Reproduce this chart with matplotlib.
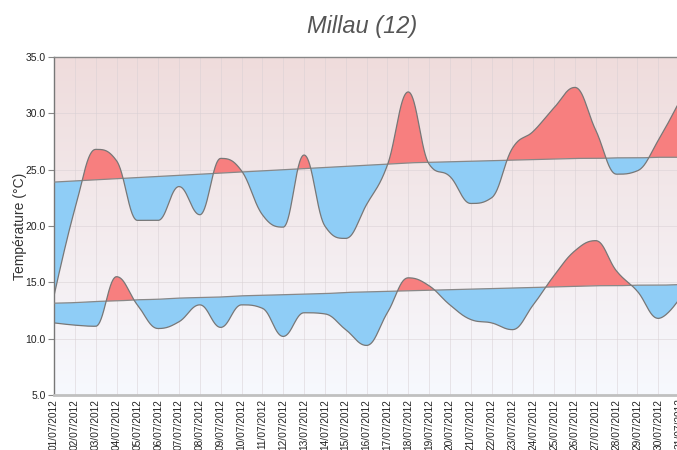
import numpy as np
import matplotlib
matplotlib.use("Agg")
import matplotlib.pyplot as plt
from matplotlib.colors import LinearSegmentedColormap

plt.rcParams['font.family'] = ['Liberation Sans', 'DejaVu Sans']

# Data
days = list(range(1, 32))
date_labels = ["%02d/07/2012" % d for d in days]

temp_max = [13.8, 21.5, 26.8, 25.8, 20.5, 20.5, 23.5, 21.0, 26.0, 24.9, 21.0,
            19.9, 26.3, 20.0, 18.9, 21.9, 25.4, 31.9, 25.5, 24.4, 22.0, 22.5,
            26.9, 28.4, 30.5, 32.3, 28.5, 24.6, 24.9, 27.6, 31.0]
temp_min = [11.4, 11.2, 11.1, 15.5, 13.0, 10.9, 11.5, 13.0, 11.0, 13.0, 12.7,
            10.2, 12.3, 12.2, 10.8, 9.4, 12.3, 15.4, 14.7, 13.0, 11.7, 11.4,
            10.8, 13.0, 15.6, 17.8, 18.7, 16.0, 14.2, 11.8, 13.5]
normal_max = [23.9, 24.0, 24.1, 24.2, 24.3, 24.4, 24.5, 24.6, 24.7, 24.8, 24.9,
              25.0, 25.1, 25.2, 25.3, 25.4, 25.5, 25.6, 25.65, 25.7, 25.75, 25.8,
              25.85, 25.9, 25.95, 26.0, 26.0, 26.05, 26.05, 26.1, 26.1]
normal_min = [13.15, 13.2, 13.3, 13.35, 13.45, 13.5, 13.6, 13.65, 13.7, 13.8, 13.85,
              13.9, 13.95, 14.0, 14.1, 14.15, 14.2, 14.25, 14.3, 14.35, 14.4, 14.45,
              14.5, 14.55, 14.6, 14.65, 14.7, 14.7, 14.75, 14.75, 14.8]


def spline(xs, ys, n=40):
    # highcharts-like spline through the points (cubic bezier segments)
    xs = np.asarray(xs, float)
    ys = np.asarray(ys, float)
    k = len(xs)
    lc = np.column_stack([xs, ys]).copy()
    rc = np.column_stack([xs, ys]).copy()
    sm, den = 1.5, 2.5
    for i in range(1, k - 1):
        px, py = xs[i], ys[i]
        lx, ly = xs[i - 1], ys[i - 1]
        nx, ny = xs[i + 1], ys[i + 1]
        lcx = (sm * px + lx) / den
        lcy = (sm * py + ly) / den
        rcx = (sm * px + nx) / den
        rcy = (sm * py + ny) / den
        corr = (rcy - lcy) * (rcx - px) / (rcx - lcx) + py - rcy
        lcy += corr
        rcy += corr
        if lcy > ly and lcy > py:
            lcy = max(ly, py)
            rcy = 2 * py - lcy
        elif lcy < ly and lcy < py:
            lcy = min(ly, py)
            rcy = 2 * py - lcy
        if rcy > ny and rcy > py:
            rcy = max(ny, py)
            lcy = 2 * py - rcy
        elif rcy < ny and rcy < py:
            rcy = min(ny, py)
            lcy = 2 * py - rcy
        lc[i] = (lcx, lcy)
        rc[i] = (rcx, rcy)
    t = np.linspace(0, 1, n)[:, None]
    out = []
    for i in range(k - 1):
        p0 = np.array([xs[i], ys[i]])
        p1 = rc[i]
        p2 = lc[i + 1]
        p3 = np.array([xs[i + 1], ys[i + 1]])
        seg = ((1 - t) ** 3) * p0 + 3 * ((1 - t) ** 2) * t * p1 + 3 * (1 - t) * t ** 2 * p2 + t ** 3 * p3
        out.append(seg if i == 0 else seg[1:])
    out = np.vstack(out)
    return out[:, 0], out[:, 1]


fig = plt.figure(figsize=(6.77, 4.5), dpi=100)
ax = fig.add_axes([54 / 677, 55 / 450, 623 / 677, 338 / 450])

xmin, xmax = 1, 30.9
ymin, ymax = 5, 35

# background gradient
cmap = LinearSegmentedColormap.from_list("bg", ["#f7f9fe", "#efdcdc"])
grad = np.linspace(0, 1, 256)[:, None]
ax.imshow(grad, extent=[xmin, xmax, ymin, ymax], origin="lower", aspect="auto",
          cmap=cmap, zorder=0)

grid = np.linspace(1, 31, 3001)
red = "#f77f7f"
blue = "#8fcdf6"
for actual, normal in [(temp_max, normal_max), (temp_min, normal_min)]:
    ax_, ay_ = spline(days, actual)
    nx_, ny_ = spline(days, normal)
    a = np.interp(grid, ax_, ay_)
    nrm = np.interp(grid, nx_, ny_)
    ax.fill_between(grid, a, nrm, where=a >= nrm, interpolate=True, color=red,
                    linewidth=0, zorder=2)
    ax.fill_between(grid, a, nrm, where=a <= nrm, interpolate=True, color=blue,
                    linewidth=0, zorder=2)
    ax.plot(grid, nrm, color="#888888", linewidth=0.9, zorder=3)
    ax.plot(grid, a, color="#777777", linewidth=0.9, zorder=3)

ax.set_xlim(xmin, xmax)
ax.set_ylim(ymin, ymax)
ax.set_xticks(days[:-1])
ax.set_xticklabels(date_labels[:-1], rotation=90, fontsize=7.3, color="#222222")
# last label, partly beyond the right edge as in the original
ax.text(days[-1], ymin - 0.25, date_labels[-1], rotation=90, fontsize=7.3,
        color="#222222", ha="center", va="top", clip_on=False)
ax.set_yticks([5, 10, 15, 20, 25, 30, 35])
ax.set_yticklabels(["%.1f" % v for v in [5, 10, 15, 20, 25, 30, 35]],
                   fontsize=7.5, color="#222222")
ax.tick_params(axis="x", length=0, pad=3)
ax.tick_params(axis="y", length=4, width=0.8, color="#888888", pad=2)
ax.grid(True, color="#d8d0d4", linewidth=0.6, alpha=0.6, zorder=1)
for line in ax.get_xgridlines() + ax.get_ygridlines():
    line.set_zorder(1)

ax.spines["right"].set_visible(False)
ax.spines["left"].set_color("#777777")
ax.spines["left"].set_linewidth(1)
ax.spines["top"].set_color("#888888")
ax.spines["top"].set_linewidth(1)
ax.spines["bottom"].set_color("#c0c0c0")
ax.spines["bottom"].set_linewidth(2)

ax.set_ylabel("Température (°C)", fontsize=10, color="#333333")
ax.yaxis.set_label_coords(-0.044, 0.5)
fig.text(0.535, 0.94, "Millau (12)", fontsize=17, style="italic",
         color="#555555", ha="center", va="center")

fig.savefig("out.png", dpi=100)
plt.close(fig)
